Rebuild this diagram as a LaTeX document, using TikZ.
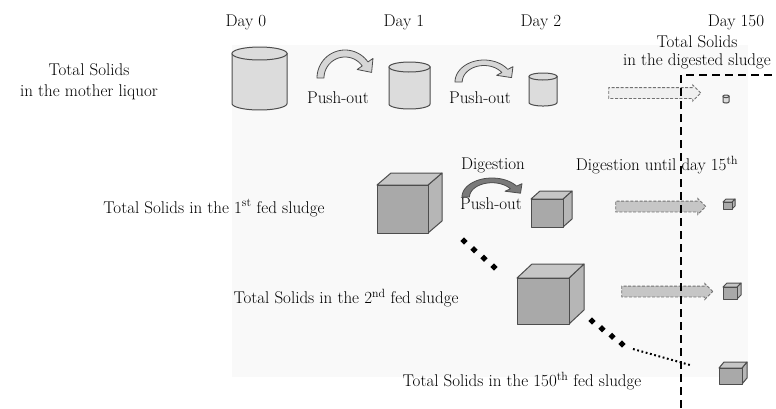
\documentclass[tikz,border=0pt]{standalone}
\usepackage{fontspec}
\setmainfont{Latin Modern Roman}
\usetikzlibrary{shapes.arrows, calc}
\definecolor{edge}{HTML}{4d4d4d}
\definecolor{drumgrey}{HTML}{dcdcdc}
\definecolor{cubefront}{HTML}{a9a9a9}
\definecolor{cubetop}{HTML}{c6c6c6}
\definecolor{cubeside}{HTML}{b6b6b6}
\definecolor{pushgrey}{HTML}{d6d6d6}
\definecolor{digestgrey}{HTML}{7a7a7a}
\definecolor{backgrey}{HTML}{f9f9f9}

\begin{document}
\begin{tikzpicture}[x=1pt, y=-1pt,
            drumline/.style={draw=edge, fill=drumgrey, line width=1pt},
            cubeline/.style={draw=edge, line width=1pt, line join=round},
            pics/drum/.style args={#1/#2/#3}{code={
                    \filldraw[drumline] (0,#3) -- (0,#2-#3)
                        -- plot[domain=180:0, samples=30] ({#1/2+#1/2*cos(\x)},{#2-#3+#3*sin(\x)})
                        -- (#1,#3) -- cycle;
                    \filldraw[drumline] plot[domain=0:360, samples=40] ({#1/2+#1/2*cos(\x)},{#3+#3*sin(\x)}) -- cycle;
                }},
            pics/box/.style args={#1/#2/#3/#4}{code={
                    \filldraw[cubeline, fill=cubeside] (#1,0) -- ++(#3,-#4) -- ++(0,#2) -- ++(-#3,#4) -- cycle;
                    \filldraw[cubeline, fill=cubetop] (0,0) -- ++(#3,-#4) -- ++(#1,0) -- ++(-#3,#4) -- cycle;
                    \filldraw[cubeline, fill=cubefront] (0,0) rectangle (#1,#2);
                }},
            pics/bend/.style={code={
                    \filldraw[line width=0.8pt, line join=round] plot[domain=180:325, samples=30] ({cos(\x)},{sin(\x)})
                        -- (325:1.22) -- (0.95,-0.2) -- (325:0.53)
                        -- plot[domain=325:180, samples=30] ({0.75*cos(\x)},{0.75*sin(\x)}) -- cycle;
                }},
            flatarrow/.style={single arrow, inner xsep=0pt, inner ysep=5pt,
                    single arrow head extend=2.5pt, draw=edge!80,
                    dash pattern=on 3pt off 1.6pt, line width=0.9pt}]
            \useasboundingbox (0,0) rectangle (776,408);
            \tikzstyle{every node}=[font=\fontsize{17}{19}\selectfont]
            % faint panel behind the drawing
            \fill[backgrey] (232,45) rectangle (748,377);

            % day labels
            \node (day0) at (246,22) {Day 0};
            \node (day1) at (404,22) {Day 1};
            \node (day2) at (541,22) {Day 2};
            \node (day150) at (736,22) {Day 150};

            % mother liquor row
            \node[align=center] (mother) at (89,82) {Total Solids\\[2pt]in the mother liquor};
            \pic at (232,47) {drum=55/63/6.5};
            \pic[draw=edge, fill=pushgrey, xscale=28, yscale=28] at (345,78) {bend};
            \node (push1) at (338,98) {Push-out};
            \pic at (389,62) {drum=41/47/5};
            \pic[draw=edge, fill=pushgrey, xscale=29, yscale=22] at (484,82) {bend};
            \node (push2) at (480,98) {Push-out};
            \pic at (529,73) {drum=28/33/3.5};
            \node[flatarrow, fill=gray!12, minimum height=92pt] (arr1) at (652,93) {};
            \pic at (723,95) {drum=6/8/1.3};
            \node[align=center] (digested) at (697,52) {Total Solids\\[-1pt]in the digested sludge};

            % 1st fed sludge
            \node (fed1) at (214,208) {Total Solids in the 1\textsuperscript{st} fed sludge};
            \pic at (377,185) {box=51/48/14/12};
            \node (digest) at (493,165) {Digestion};
            \pic[draw=edge, fill=digestgrey, xscale=30, yscale=19] at (492,197) {bend};
            \node (push3) at (491,204) {Push-out};
            \pic at (531,199) {box=32/28/9/8};
            \node (until) at (657,165) {Digestion until day 15\textsuperscript{th}};
            \node[flatarrow, fill=gray!45, minimum height=90pt] (arr2) at (658,206.5) {};
            \pic at (723,202) {box=9/7/3/3};

            % 2nd fed sludge
            \node (fed2) at (346,298) {Total Solids in the 2\textsuperscript{nd} fed sludge};
            \pic at (517,278) {box=52/46/15/14};
            \node[flatarrow, fill=gray!45, minimum height=91pt] (arr3) at (664.5,291.5) {};
            \pic at (723,287) {box=14/12/4/4};

            % 150th fed sludge
            \node (fed150) at (522,381) {Total Solids in the 150\textsuperscript{th} fed sludge};
            \pic at (719,368) {box=23/16/5/6};

            % dotted trails
            \coordinate (ta) at (464,241);
            \coordinate (tb) at (494,267);
            \coordinate (tc) at (592,321);
            \coordinate (td) at (622,344);
            \coordinate (te) at (633,349);
            \coordinate (tf) at (690,365);
            \foreach \i in {0,...,3} {
                \fill[black] ($(ta)!\i/3!(tb)$) +(0,-3.6) -- +(3.6,0) -- +(0,3.6) -- +(-3.6,0) -- cycle;
                \fill[black] ($(tc)!\i/3!(td)$) +(0,-3.6) -- +(3.6,0) -- +(0,3.6) -- +(-3.6,0) -- cycle;
            }
            \draw[line width=2pt, dash pattern=on 1.8pt off 2.6pt] (te) -- (tf);

            % day 150 border
            \draw[line width=1.3pt, dash pattern=on 8pt off 5pt] (681,408) -- (681,75) -- (776,75);
        \end{tikzpicture}
\end{document}
